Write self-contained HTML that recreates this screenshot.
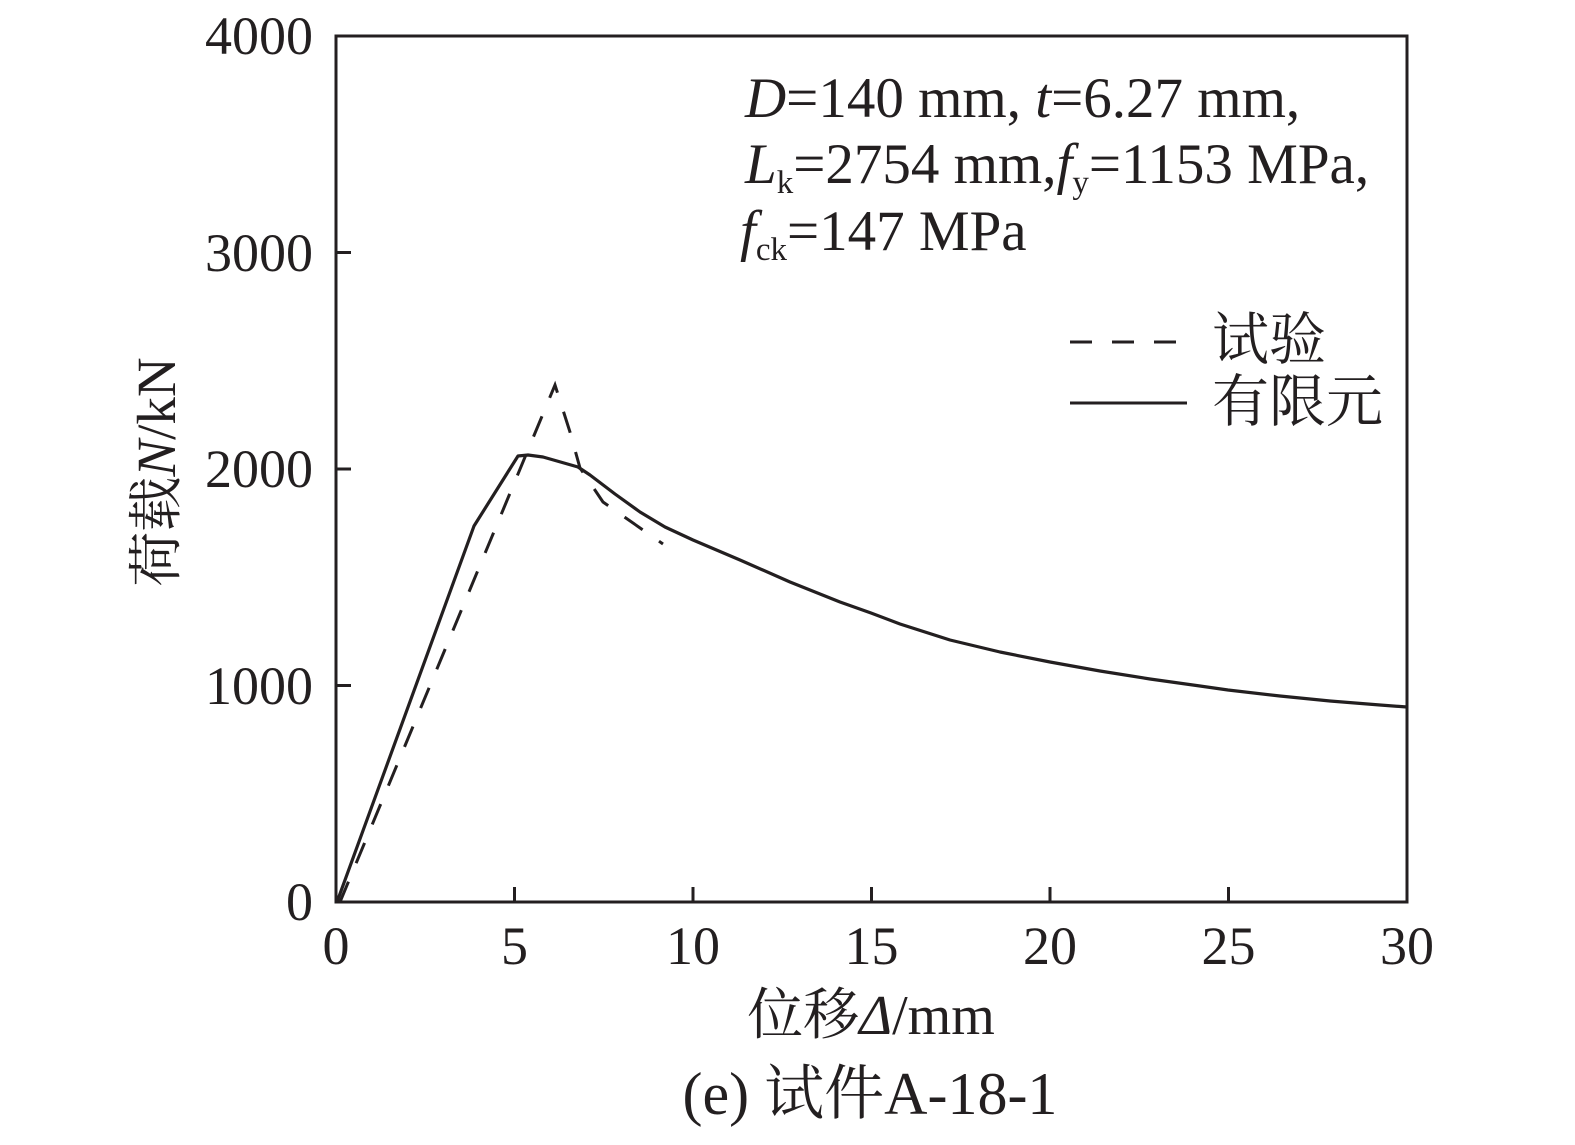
<!DOCTYPE html>
<html><head><meta charset="utf-8"><style>
html,body{margin:0;padding:0;background:#fff;}
svg{display:block;}
text{font-family:"Liberation Serif","Noto Serif CJK SC","Noto Sans CJK SC",serif;fill:#231f20;}
</style></head><body>
<svg width="1575" height="1145" viewBox="0 0 1575 1145" xmlns="http://www.w3.org/2000/svg">
<g stroke="#231f20" stroke-width="3" fill="none">
<rect x="336" y="36" width="1071" height="866"/>
<path d="M336 36h15M336 252.5h15M336 469h15M336 685.5h15"/>
<path d="M514.5 902v-15M693 902v-15M871.5 902v-15M1050 902v-15M1228.5 902v-15"/>
</g>
<polyline fill="none" stroke="#231f20" stroke-width="3.2" stroke-linejoin="round" points="337,902 474,526 518,456 528,455 543,457 578,467 590,475 615,494 640,512 665,527 693,540 740,560 790,582 840,602 871,613 900,624 950,640 1000,652 1050,662 1100,671 1150,679 1200,686 1228,690 1280,696 1330,701 1380,705 1407,707"/>
<polyline fill="none" stroke="#231f20" stroke-width="3" stroke-dasharray="22,20" points="340,902 555,385 570,432 580,468 603,502 663,544"/>
<g font-size="54" text-anchor="end">
<text x="313" y="54">4000</text>
<text x="313" y="271">3000</text>
<text x="313" y="487">2000</text>
<text x="313" y="704">1000</text>
<text x="313" y="920">0</text>
</g>
<g font-size="54" text-anchor="middle">
<text x="336" y="964">0</text>
<text x="514.5" y="964">5</text>
<text x="693" y="964">10</text>
<text x="871.5" y="964">15</text>
<text x="1050" y="964">20</text>
<text x="1228.5" y="964">25</text>
<text x="1407" y="964">30</text>
</g>
<text x="871" y="1034" font-size="56" text-anchor="middle">位移<tspan font-style="italic">Δ</tspan>/mm</text>
<text x="870" y="1114" font-size="60" text-anchor="middle">(e) 试件A-18-1</text>
<text transform="translate(175,472) rotate(-90)" font-size="55" text-anchor="middle">荷载<tspan font-style="italic">N</tspan>/kN</text>
<g font-size="57">
<text x="745" y="117"><tspan font-style="italic">D</tspan>=140 mm, <tspan font-style="italic">t</tspan>=6.27 mm,</text>
<text x="745" y="183"><tspan font-style="italic">L</tspan><tspan font-size="33" dy="10">k</tspan><tspan dy="-10">=2754 mm,</tspan><tspan font-style="italic">f</tspan><tspan font-size="33" dy="10">y</tspan><tspan dy="-10">=1153 MPa,</tspan></text>
<text x="740" y="250"><tspan font-style="italic">f</tspan><tspan font-size="33" dy="10">ck</tspan><tspan dy="-10">=147 MPa</tspan></text>
</g>
<path d="M1070 342h117" stroke="#231f20" stroke-width="3" stroke-dasharray="22,20"/>
<path d="M1070 403h117" stroke="#231f20" stroke-width="3"/>
<text x="1212" y="359" font-size="57">试验</text>
<text x="1212" y="421" font-size="57">有限元</text>
</svg>
</body></html>
